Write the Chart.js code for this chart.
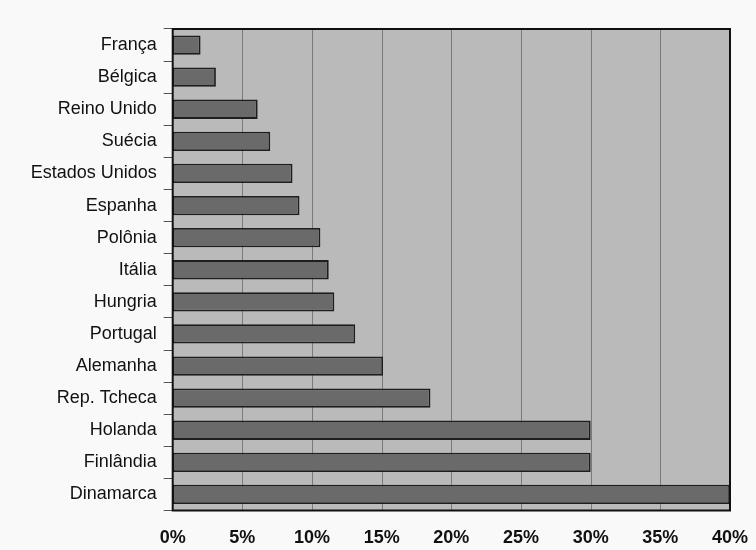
<!DOCTYPE html>
<html>
<head>
<meta charset="utf-8">
<script src="https://cdn.jsdelivr.net/npm/chart.js@4"></script>
<style>
	html, body { margin: 0; padding: 0; background: #f9f9f9; }
	#wrap { width: 756px; height: 550px; }
</style>
</head>
<body>
<div id="wrap"><canvas id="country-chart"></canvas></div>
<script>
// countries, top to bottom
const countries = [
	"França",
	"Bélgica",
	"Reino Unido",
	"Suécia",
	"Estados Unidos",
	"Espanha",
	"Polônia",
	"Itália",
	"Hungria",
	"Portugal",
	"Alemanha",
	"Rep. Tcheca",
	"Holanda",
	"Finlândia",
	"Dinamarca",
];

// share in percent
const shares = [2, 3.1, 6.1, 7, 8.6, 9.1, 10.6, 11.2, 11.6, 13.1, 15.1, 18.5, 30, 30, 40];

const xTicks = [0, 5, 10, 15, 20, 25, 30, 35, 40];

// gray plot background + black frame
const plotFrame = {
	id: "plotFrame",
	beforeDatasetsDraw(chart) {
		const { ctx, chartArea: a } = chart;
		ctx.save();
		ctx.fillStyle = "#bababa";
		ctx.fillRect(a.left, a.top, a.right - a.left, a.bottom - a.top);
		// vertical grid lines
		ctx.strokeStyle = "#7a7a7a";
		ctx.lineWidth = 1;
		const xs = chart.scales.x;
		xTicks.slice(1, -1).forEach((t) => {
			const px = Math.round(xs.getPixelForValue(t)) + 0.5;
			ctx.beginPath();
			ctx.moveTo(px, a.top);
			ctx.lineTo(px, a.bottom);
			ctx.stroke();
		});
		ctx.restore();
	},
	afterDatasetsDraw(chart) {
		const { ctx, chartArea: a } = chart;
		ctx.save();
		ctx.strokeStyle = "#111";
		ctx.lineWidth = 2;
		ctx.strokeRect(a.left, a.top, a.right - a.left, a.bottom - a.top);
		ctx.restore();
	},
};

const countryCanvas = document.getElementById("country-chart");

const countryChart = new Chart(countryCanvas, {
	type: "bar",
	data: {
		labels: countries,
		datasets: [
			{
				data: shares,
				backgroundColor: "#6a6a6a",
				borderColor: "#1e1e1e",
				borderWidth: 1.8,
				borderSkipped: false,
				categoryPercentage: 1,
				barPercentage: 0.6,
			},
		],
	},
	options: {
		indexAxis: "y",
		responsive: true,
		maintainAspectRatio: false,
		animation: false,
		layout: {
			padding: { top: 29, right: 0, left: 0, bottom: 0 },
		},
		plugins: {
			legend: { display: false },
			tooltip: { enabled: false },
		},
		scales: {
			x: {
				min: 0,
				max: 40,
				afterBuildTicks: (scale) => {
					scale.ticks = xTicks.map((v) => ({ value: v }));
				},
				afterFit: (scale) => {
					scale.height = 39.5;
					scale.paddingRight = 26;
					scale.paddingLeft = 0;
				},
				grid: { display: false, drawTicks: false },
				border: { display: false },
				ticks: {
					padding: 17,
					color: "#111",
					maxRotation: 0,
					font: { family: "Liberation Sans", size: 18, weight: "bold" },
					callback: (v) => v + "%",
				},
			},
			y: {
				afterFit: (scale) => {
					scale.width = 172.7;
				},
				offset: true,
				grid: {
					offset: true,
					drawOnChartArea: false,
					drawTicks: true,
					tickLength: 9,
					color: "#555",
				},
				border: { display: false },
				ticks: {
					padding: 7,
					color: "#111",
					font: { family: "Liberation Sans", size: 18 },
				},
			},
		},
	},
	plugins: [plotFrame],
});
</script>
</body>
</html>
